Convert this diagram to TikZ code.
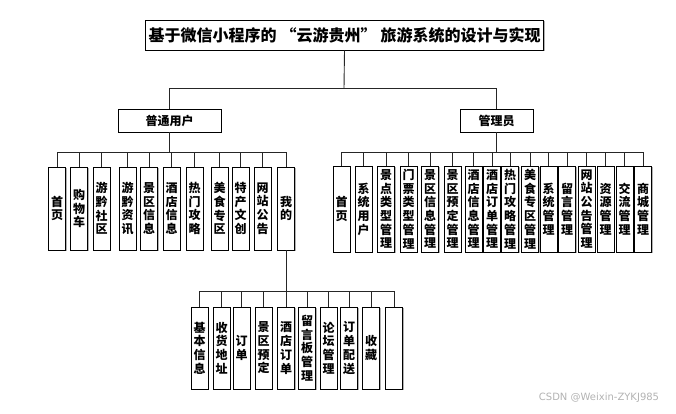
\documentclass[tikz,border=0pt]{standalone}
\usepackage{fontspec}
\setmainfont{Noto Sans CJK SC}
\newfontfamily\markfont{DejaVu Sans}
\XeTeXlinebreaklocale "zh"
\XeTeXlinebreakskip=0pt plus 1pt
\usetikzlibrary{shadows}

\begin{document}
\begin{tikzpicture}[x=1pt, y=-1pt,
    box/.style={rectangle, draw=black, line width=0.9pt, fill=white,
                font=\bfseries\fontsize{12}{13.7}\selectfont,
                drop shadow={shadow xshift=1.3pt, shadow yshift=-1.3pt,
                             fill=black!30, opacity=1}},
    titlebox/.style={box, minimum width=397pt, minimum height=30pt,
                     font=\bfseries\fontsize{16}{18}\selectfont},
    rolebox/.style={box, minimum height=23pt},
    item/.style={box, text width=17pt, inner sep=0pt, align=center},
    useritem/.style={item, minimum height=83pt},
    adminitem/.style={item, minimum height=86pt},
    subitem/.style={item, minimum height=82pt},
    link/.style={draw=black!85, line width=0.9pt}
]
    \useasboundingbox (0,0) rectangle (676,413);

    % top levels
    \node[titlebox] (title) at (344.5,35) {基于微信小程序的\hspace{0.25em}“云游贵州”\hspace{0.25em}旅游系统的设计与实现};
    \node[rolebox, minimum width=103pt] (user) at (169.5,120.5) {普通用户};
    \node[rolebox, minimum width=73pt] (admin) at (496.5,120.5) {管理员};

    % user functions
    \node[useritem] (u1) at (57,208.5) {首页};
    \node[useritem] (u2) at (79,208.5) {购物车};
    \node[useritem] (u3) at (101.5,208.5) {游黔社区};
    \node[useritem] (u4) at (127.5,208.5) {游黔资讯};
    \node[useritem] (u5) at (149,208.5) {景区信息};
    \node[useritem] (u6) at (171.5,208.5) {酒店信息};
    \node[useritem] (u7) at (194.5,208.5) {热门攻略};
    \node[useritem] (u8) at (219.5,208.5) {美食专区};
    \node[useritem] (u9) at (240.5,208.5) {特产文创};
    \node[useritem] (u10) at (262.5,208.5) {网站公告};
    \node[useritem] (u11) at (286,208.5) {我的};

    % admin functions
    \node[adminitem] (a1) at (341.5,209) {首页};
    \node[adminitem] (a2) at (363.5,209) {系统用户};
    \node[adminitem] (a3) at (386,209) {景点类型管理};
    \node[adminitem] (a4) at (408.5,209) {门票类型管理};
    \node[adminitem] (a5) at (430,209) {景区信息管理};
    \node[adminitem] (a6) at (452.5,209) {景区预定管理};
    \node[adminitem] (a7) at (473.5,209) {酒店信息管理};
    \node[adminitem] (a8) at (492,209) {酒店订单管理};
    \node[adminitem] (a9) at (510,209) {热门攻略管理};
    \node[adminitem] (a10) at (530,209) {美食专区管理};
    \node[adminitem] (a11) at (548.5,209) {系统管理};
    \node[adminitem] (a12) at (567,209) {留言管理};
    \node[adminitem] (a13) at (586.5,209) {网站公告管理};
    \node[adminitem] (a14) at (605.5,209) {资源管理};
    \node[adminitem] (a15) at (624.5,209) {交流管理};
    \node[adminitem] (a16) at (643,209) {商城管理};

    % "my" sub functions
    \node[subitem] (m1) at (199.5,348) {基本信息};
    \node[subitem] (m2) at (221.5,348) {收货地址};
    \node[subitem] (m3) at (241.5,348) {订单};
    \node[subitem] (m4) at (263.5,348) {景区预定};
    \node[subitem] (m5) at (286,348) {酒店订单};
    \node[subitem] (m6) at (307,348) {留言板管理};
    \node[subitem] (m7) at (328.5,348) {论坛管理};
    \node[subitem] (m8) at (349,348) {订单配送};
    \node[subitem] (m9) at (371,348) {收藏};
    \node[subitem] (m10) at (394,348) {};

    % bus points
    \coordinate (tbus) at (344,88);
    \coordinate (ubus) at (169.5,152.7);
    \coordinate (abus) at (496.5,152.7);
    \coordinate (mbus) at (286,291.7);

    \draw[link] (title.south) -- (tbus);
    \draw[link] (user.north) |- (tbus);
    \draw[link] (admin.north) |- (tbus);

    \draw[link] (user.south) -- (ubus);
    \foreach \i in {1,...,11}
        \draw[link] (u\i.north) |- (ubus);

    \draw[link] (admin.south) -- (abus);
    \foreach \i in {1,...,16}
        \draw[link] (a\i.north) |- (abus);

    \draw[link] (u11.south) -- (mbus);
    \foreach \i in {1,...,10}
        \draw[link] (m\i.north) |- (mbus);

    % watermark
    \node[font=\markfont\fontsize{10}{12}\selectfont, text=black!30, inner sep=0pt]
        (mark) at (599,398) {CSDN @Weixin-ZYKJ985};
\end{tikzpicture}
\end{document}
